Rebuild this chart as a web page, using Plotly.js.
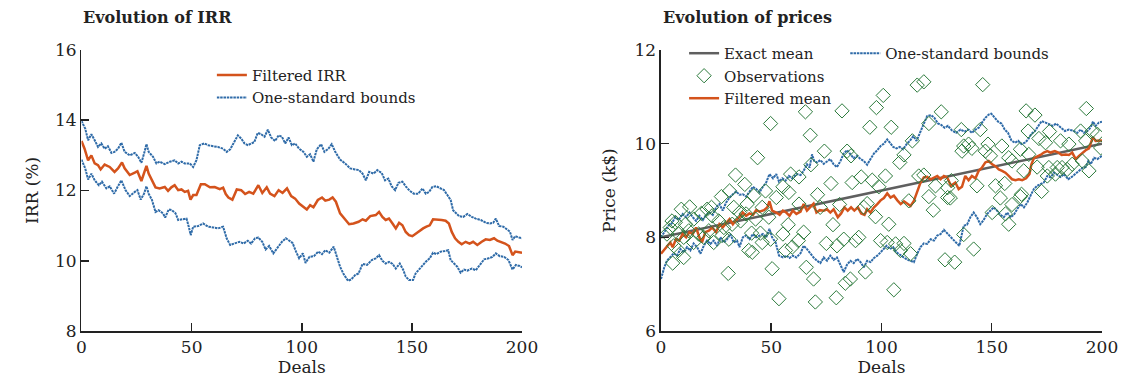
<!DOCTYPE html>
<html>
<head>
<meta charset="utf-8">
<script src="https://cdn.plot.ly/plotly-3.0.1.min.js"></script>
<style>html,body{margin:0;padding:0;background:#fff;}#chart{width:1127px;height:381px;}</style>
</head>
<body>
<div id="chart"></div>
<script>
// ---------- Left chart: Evolution of IRR ----------
const irrFilteredX = [0,1.4,3,4.5,6,7.5,8.7,10.5,12.8,15,16.6,18.4,19.6,21.9,24.2,25.4,27.2,28.4,29.5,30.5,32,33.6,35.5,37.8,39.3,40.8,42.3,43.9,45.4,46.9,48.4,49.5,50.7,52.2,54.2,56,58.3,60.5,62.8,64.3,65.5,66.7,68.5,70.5,72.5,74.3,76.1,78,80.3,82.1,84.1,85.6,87.6,89.5,91.3,93.3,95.2,97,98.8,100.8,102.3,103.8,105.3,107.3,109.2,110.7,112.5,114,115.5,117.4,119.7,121.5,123.5,125.8,127.6,129.1,131.1,133.6,135.1,136.6,138.1,139.6,141.2,142.7,144.2,145.7,147.2,148.7,150.2,152,153.5,155.1,156.6,158.1,159.6,161.6,163.5,165.3,166.8,168.1,169.6,171.1,172.6,174.4,176.2,177.8,179.7,181.7,183.5,185.4,187.3,188.8,190.4,192.3,194.1,195.7,196.9,198.7,200];
const irrFilteredY = [13.41,13.19,12.86,13.0,12.77,12.72,12.6,12.74,12.67,12.53,12.63,12.8,12.63,12.44,12.51,12.55,12.27,12.48,12.7,12.48,12.29,12.09,12.06,12.1,11.99,12.09,12.15,12.01,12.03,11.96,11.99,11.74,11.87,11.87,12.18,12.18,12.09,12.1,12.04,12.08,11.9,11.8,11.74,12.03,12.01,11.9,11.96,11.91,12.15,11.93,12.09,11.91,11.84,12.01,11.93,12.06,11.84,11.77,11.63,11.54,11.46,11.58,11.52,11.73,11.8,11.71,11.74,11.8,11.68,11.35,11.16,11.04,11.06,11.11,11.18,11.14,11.27,11.3,11.39,11.25,11.16,11.2,11.06,10.92,11.08,11.01,10.82,10.73,10.7,10.78,10.87,10.92,10.97,11.01,11.18,11.18,11.16,11.14,11.06,10.82,10.64,10.54,10.47,10.54,10.49,10.54,10.45,10.54,10.61,10.59,10.64,10.57,10.54,10.49,10.42,10.16,10.26,10.23,10.23];

const irrUpperX = [0,1.7,3,4.5,6,7.5,9,10.5,12,13.6,15,16.6,18.1,19.6,21.9,24.2,25.7,27.2,28.4,29.5,30.5,32.5,34,35.5,37.8,40.1,42.3,43.9,45.4,46.9,49.2,50.7,52.2,53.7,55.7,57.5,59.8,62,64.3,65.9,67.5,69.8,71,72.5,74,75.5,77,78.5,80,81.6,83.1,84.6,86.1,87.9,89.5,91,92.5,94,95.5,97,98.8,100.8,102.3,103.8,105.3,106.8,108.8,110.3,112.1,113.6,115.2,117.4,119.7,122,124.2,126,127.6,129.1,130.6,132.6,134.3,136.3,137.8,139.3,140.8,142.4,143.9,145.7,147.2,149,150.9,152.9,154.8,156.3,157.8,159.3,161.1,163.1,164.6,166.1,167.6,168.7,169.9,171.4,173.3,175.2,177.2,179,181.3,183.6,185.4,186.9,188.1,189.6,191.5,193,194.5,195.7,196.9,198.7,200];
const irrUpperY = [13.98,13.76,13.43,13.6,13.43,13.24,13.34,13.19,13.26,13.07,13.1,13.19,13.36,13.1,13.0,13.07,12.96,12.79,13.05,13.32,13.1,12.96,12.77,12.82,12.75,12.82,12.86,12.77,12.82,12.77,12.77,12.67,12.86,13.29,13.34,13.29,13.26,13.24,13.19,13.1,13.17,13.45,13.57,13.48,13.34,13.29,13.34,13.38,13.64,13.6,13.53,13.73,13.51,13.41,13.57,13.53,13.34,13.51,13.29,13.34,13.19,13.1,12.96,13.03,12.82,13.17,13.32,13.1,13.19,13.32,13.1,12.88,12.77,12.63,12.6,12.58,12.48,12.29,12.53,12.48,12.58,12.5,12.29,12.34,12.12,12.01,12.22,12.25,12.12,11.99,11.91,11.91,12.06,11.91,11.96,12.1,12.12,12.06,12.01,11.87,11.73,11.44,11.35,11.27,11.25,11.33,11.25,11.2,11.16,11.08,11.06,11.08,11.2,10.99,10.97,10.89,10.83,10.59,10.7,10.66,10.64];

const irrLowerX = [0,1.7,3,4.5,6,7.9,9.3,11.3,12.8,14.8,16.3,18.1,20,21.9,24.2,25.4,26.9,28.4,29.5,30.5,32,33.6,35,37,38,39.6,41,42.7,43.9,45.7,47.7,48.7,49.6,50.7,53,55.2,57.5,59.8,62,64.3,65.9,67.5,69.8,71.7,73.6,75.5,77,78.8,80.3,82.1,83.6,85.2,87.1,89.1,91,92.8,94.3,95.8,97.4,98.8,100.5,101.7,103.5,105.5,107.5,109.2,110.7,112.5,114.5,116,117.4,119,121,122.5,124.2,125.8,127.6,129.6,131.8,133.6,135.1,136.6,138.1,139.6,141.2,142.7,144.5,146,147.2,148.7,150.5,151.7,153.2,154.8,156.3,158.1,159.6,161.1,163.1,165,166.5,167.6,169.1,170.6,172.1,173.7,175.2,177.2,179,180.8,182.8,184.8,186.6,188.1,189.9,191.9,193.8,195.7,197.2,199,200];
const irrLowerY = [12.88,12.63,12.31,12.48,12.29,12.15,12.25,12.06,12.12,11.91,12.09,12.29,12.01,11.84,11.96,12.01,11.74,11.91,12.12,11.91,11.73,11.39,11.44,11.35,11.23,11.46,11.44,11.35,11.16,11.18,11.2,10.97,10.73,10.97,10.99,11.06,10.97,10.95,10.92,10.97,10.64,10.45,10.51,10.54,10.49,10.57,10.49,10.64,10.66,10.54,10.32,10.42,10.21,10.38,10.54,10.64,10.57,10.51,10.26,10.07,10.21,9.94,10.11,10.13,10.26,10.19,10.3,10.23,10.4,10.11,9.83,9.62,9.43,9.47,9.59,9.64,9.91,9.88,10.02,10.07,10.16,10.0,9.92,9.97,9.91,9.78,9.92,9.75,9.55,9.45,9.45,9.64,9.75,9.88,9.97,10.07,10.23,10.19,10.26,10.28,10.3,10.02,9.91,9.83,9.66,9.75,9.72,9.78,9.73,9.88,10.04,10.07,10.11,10.21,10.13,10.11,10.02,9.75,9.88,9.85,9.81];

// ---------- Right chart: Evolution of prices ----------
const exactMeanX = [0,50,100,150,200];
const exactMeanY = [8.0,8.5,9.0,9.5,10.0];

const priceFilteredX = [0,2.7,4.2,5.3,6.8,8.3,9.8,11.4,12.9,14.4,15.9,17.4,18.6,20.1,21.7,23.2,25,26.5,28,29.5,31.1,32.6,34.1,35.6,37.1,38.6,40.1,41.7,43.2,44.7,46.7,48.2,49.2,50.4,52.3,53.8,55.3,56.8,58.3,59.8,61.4,63.3,64.7,66.2,67.7,69.2,70.5,72,73.8,75.3,76.8,78.3,80.2,81.7,83.2,84.7,86.2,87.7,89.3,90.8,92.3,93.5,95,96.6,98.1,99.6,101.1,102.6,104.1,105.6,107.2,108.7,110.2,111.7,113.2,114.7,116.2,117.7,119.2,120.7,122.3,123.8,125.3,126.8,128.3,129.8,131.5,133.5,135,136.5,138,139.5,141,142.6,144.1,145.6,147.1,148.6,150.2,151.7,153.2,154.7,156.2,157.7,159.2,160.8,162.3,163.8,165.6,167.1,168,169.1,170.6,172.1,173.6,175.2,176.7,178.6,180.2,181.7,183.5,185,186.5,188.1,189.6,191.1,192.6,194.1,195.3,195.9,197.1,198.6,200];
const priceFilteredY = [7.65,7.82,7.89,7.79,7.96,7.93,8.07,8.0,8.11,8.07,8.21,8.0,7.89,8.11,8.14,8.21,8.11,8.28,8.21,8.3,8.39,8.28,8.37,8.43,8.53,8.46,8.51,8.48,8.58,8.55,8.58,8.64,8.77,8.57,8.53,8.48,8.57,8.53,8.46,8.57,8.5,8.55,8.71,8.57,8.64,8.72,8.53,8.58,8.57,8.6,8.53,8.6,8.43,8.51,8.64,8.57,8.64,8.57,8.64,8.51,8.48,8.6,8.53,8.64,8.71,8.79,8.84,8.94,8.85,8.89,8.79,8.71,8.77,8.71,8.67,8.78,8.99,9.17,9.28,9.29,9.24,9.28,9.31,9.24,9.31,9.28,9.1,9.17,9.03,9.08,9.31,9.22,9.31,9.26,9.42,9.49,9.6,9.63,9.56,9.52,9.45,9.42,9.38,9.31,9.24,9.22,9.24,9.22,9.26,9.35,9.56,9.69,9.72,9.76,9.81,9.84,9.81,9.84,9.81,9.76,9.77,9.76,9.81,9.67,9.74,9.81,9.86,9.9,10.06,10.14,10.06,10.07,10.07];

const priceUpperX = [0,1.9,3.4,4.9,6.5,8,9.8,11.4,12.9,14.4,15.9,17.4,19,20.5,22,23.5,25,26.5,28,29.5,31.1,32.6,34.1,35.6,37.1,38.6,40.1,41.7,43.2,44.7,46.2,47.7,49.2,50.8,52.3,53.5,55,56.5,58,59.5,61.4,63.3,64.7,66.2,67.4,68.5,69.5,70.8,72.3,73.8,75.3,76.8,78.3,79.8,81.4,82.9,84.4,85.9,87.4,89,90.5,92,93.5,95,96.6,98.1,99.6,101.1,102.6,103.8,105.3,106.8,108.3,109.8,111.4,112.9,114.4,115.9,117.4,118.4,119.5,120.7,122.5,124,125.6,127.1,128.6,130.1,132,133.8,135.8,137.7,139.5,141,142.6,144.1,145.6,147.1,148.6,149.8,151.4,152.9,154.4,155.9,157.4,158.9,160.5,162,163.5,165,166.5,168,169.6,171.1,172.6,174.4,175.9,177.7,179.2,181.2,183.2,185,186.8,188.8,190.3,191.8,193.4,194.9,195.9,197.1,198.6,200];
const priceUpperY = [8.0,8.13,8.25,8.3,8.43,8.37,8.5,8.43,8.53,8.43,8.35,8.46,8.37,8.48,8.53,8.48,8.64,8.71,8.57,8.74,8.85,8.92,8.98,8.91,8.92,8.87,8.96,9.08,9.03,8.96,9.08,9.17,9.35,9.26,9.35,9.19,9.26,9.21,9.31,9.26,9.35,9.33,9.42,9.56,9.49,9.77,9.63,9.6,9.65,9.57,9.62,9.67,9.56,9.5,9.63,9.79,9.86,9.77,9.69,9.74,9.67,9.63,9.55,9.67,9.79,9.86,9.95,10.0,10.09,10.02,9.93,9.9,9.93,9.88,9.99,10.06,10.16,10.06,10.23,10.34,10.48,10.59,10.61,10.55,10.43,10.4,10.34,10.38,10.28,10.23,10.3,10.26,10.3,10.23,10.3,10.34,10.45,10.55,10.62,10.64,10.55,10.47,10.43,10.3,10.23,10.07,10.02,10.06,9.99,10.02,10.09,10.21,10.27,10.38,10.48,10.45,10.41,10.38,10.43,10.35,10.27,10.3,10.28,10.23,10.3,10.23,10.27,10.35,10.47,10.38,10.45,10.47];

const priceLowerX = [0,1.5,2.7,4.2,5.8,7.3,8.8,10.3,11.8,13.3,14.8,16.4,17.9,19.4,20.9,22.4,23.9,25.4,27,28.5,30,31.5,33,34.5,35.6,37.1,38.6,40.1,41.7,43.2,44.7,46.2,47.7,49.2,50.4,52,53.5,55.3,56.8,58.3,59.8,61.4,63.3,64.7,66.2,67.7,69.2,70.8,72.3,73.8,75.3,76.8,78.3,79.8,81.4,82.9,84.4,85.9,87.4,89,90.5,92,93.5,95,96.6,98.1,99.6,101.1,102.3,103.8,105.3,106.8,108.3,110.2,111.7,113.2,114.7,116.2,117.7,119.2,120.7,122.3,123.8,125.3,126.8,128.3,130.1,132,133.8,135.3,136.2,137.3,138.8,140.3,141.8,143.3,144.8,146.3,147.9,149.4,150.9,152.4,153.9,155.5,157,158.5,160,161.5,163.1,164.6,166.1,167.6,169.1,170.6,172.1,173.6,175.2,176.7,178.2,179.7,181.2,182.8,184.7,186.3,187.8,189.6,191.1,192.6,193.8,194.9,196.4,197.9,200];
const priceLowerY = [7.11,7.36,7.5,7.57,7.66,7.61,7.75,7.68,7.79,7.72,7.87,7.79,7.65,7.82,7.93,7.86,7.93,7.82,8.0,7.89,7.96,8.07,7.89,7.93,7.79,8.0,8.04,7.96,8.07,8.0,8.04,8.07,8.0,8.18,8.0,7.89,7.61,7.57,7.61,7.56,7.61,7.57,7.66,7.82,7.75,7.65,7.57,7.5,7.45,7.57,7.5,7.61,7.52,7.57,7.42,7.26,7.42,7.5,7.45,7.54,7.47,7.36,7.5,7.47,7.56,7.61,7.68,7.75,7.82,7.75,7.79,7.68,7.63,7.57,7.52,7.5,7.47,7.65,7.79,7.87,7.86,7.96,7.93,8.04,8.07,8.16,8.07,7.96,7.89,7.82,8.01,8.25,8.27,8.43,8.53,8.43,8.28,8.37,8.5,8.58,8.64,8.57,8.48,8.43,8.53,8.43,8.48,8.6,8.71,8.64,8.74,8.89,9.03,9.1,9.13,9.17,9.31,9.28,9.38,9.33,9.29,9.35,9.24,9.29,9.35,9.42,9.48,9.5,9.63,9.56,9.7,9.67,9.74];

const obsX = [2.7,4.2,5.0,5.3,5.8,6.5,8.0,8.0,9.2,10.3,10.3,11.1,12.6,13.0,14.8,14.9,17.1,18.3,19.4,20.9,21.7,22.9,23.2,23.9,26.2,27.4,27.7,28.5,30.5,30.8,31.1,32.3,33.0,33.8,35.6,36.1,38.0,38.6,39.1,39.8,41.1,41.4,42.1,42.9,43.8,45.1,45.9,45.9,47.4,48.9,49.7,49.7,50.4,52.3,53.5,55.3,55.3,56.5,57.7,58.0,58.8,59.5,62.3,62.6,62.6,64.7,65.5,65.9,67.7,68.0,69.2,70.0,71.0,72.2,74.1,75.0,77.1,78.0,79.5,79.8,81.0,82.1,82.9,83.6,84.4,85.9,86.2,86.7,88.2,89.7,90.8,92.0,92.7,93.5,94.7,95.8,97.3,97.7,98.8,99.6,100.8,101.8,102.6,103.3,104.4,105.6,106.4,108.3,108.6,110.2,110.2,112.4,113.2,114.0,116.2,116.9,119.2,119.2,121.5,121.5,123.5,124.5,127.1,128.8,130.0,130.0,131.2,131.7,133.2,136.2,136.5,137.3,137.3,139.5,141.0,141.8,143.3,144.8,145.9,147.1,148.3,149.4,150.2,151.7,153.9,154.6,155.9,156.2,157.7,157.7,159.2,159.2,163.0,163.0,163.5,164.5,165.6,166.5,166.8,169.6,170.6,171.4,172.6,174.4,175.2,175.9,176.2,178.9,179.7,181.2,181.9,184.2,185.0,186.5,190.3,191.1,192.6,192.9,194.1,195.6,197.9,199.4];
const obsY = [8.07,8.21,8.35,7.45,7.82,8.32,8.07,7.72,8.6,7.57,8.0,8.28,8.14,8.65,7.89,8.39,8.07,8.51,8.0,8.6,8.14,8.64,8.46,7.89,8.35,8.87,8.04,8.21,7.23,7.96,8.99,8.28,8.64,9.33,8.53,8.35,9.13,8.5,8.71,7.72,8.09,7.68,8.89,8.39,9.7,8.09,8.64,7.89,8.99,8.43,10.43,7.96,7.33,8.85,6.69,9.08,8.07,7.72,8.27,8.96,9.35,7.79,7.93,9.29,8.71,8.11,10.68,7.36,10.18,9.55,7.11,6.62,8.91,8.64,9.84,7.87,9.15,8.27,6.71,7.82,8.7,10.7,7.96,7.02,9.84,7.11,9.74,9.17,7.93,8.0,9.29,8.64,7.26,8.72,10.35,9.22,8.44,10.77,9.08,7.93,11.03,9.31,7.89,8.28,10.35,6.88,7.86,9.6,7.72,9.76,7.87,8.78,7.65,10.06,11.25,9.31,11.32,9.33,10.43,8.87,8.58,9.1,10.68,7.52,9.06,8.85,8.84,9.21,7.47,10.3,9.84,9.95,8.06,9.99,9.9,7.75,9.1,10.3,11.26,9.84,9.99,9.74,8.53,9.1,8.84,9.95,9.15,8.5,8.28,9.7,9.63,8.7,9.88,8.87,8.92,9.42,10.7,10.27,9.77,10.61,9.5,10.11,8.98,10.02,9.31,9.49,10.26,9.35,9.49,10.06,9.49,9.45,9.99,9.56,10.27,9.63,10.06,10.75,9.42,10.27,10.2,9.91];

// ---------- Styles ----------
const ORANGE = '#D4531C';
const BLUE = '#2F6BA8';
const GREEN = '#2B7A3B';
const GREY = '#5F5F5F';
const FONT = 'DejaVu Serif';
const boundDash = '2.5px,0.8px';

const traces = [
  {x: irrUpperX, y: irrUpperY, type:'scatter', mode:'lines', name:'One-standard bounds',
   line:{color:BLUE, width:2, dash:boundDash}, xaxis:'x', yaxis:'y', legend:'legend', legendgroup:'b', legendrank:2},
  {x: irrLowerX, y: irrLowerY, type:'scatter', mode:'lines', name:'One-standard bounds', showlegend:false,
   line:{color:BLUE, width:2, dash:boundDash}, xaxis:'x', yaxis:'y', legendgroup:'b'},
  {x: irrFilteredX, y: irrFilteredY, type:'scatter', mode:'lines', name:'Filtered IRR',
   line:{color:ORANGE, width:2.5}, xaxis:'x', yaxis:'y', legend:'legend', legendgroup:'a', legendrank:1},

  {x: exactMeanX, y: exactMeanY, type:'scatter', mode:'lines', name:'Exact mean',
   line:{color:GREY, width:2.5}, xaxis:'x2', yaxis:'y2', legend:'legend2', legendgroup:'c', legendrank:1},
  {x: priceUpperX, y: priceUpperY, type:'scatter', mode:'lines', name:'One-standard bounds',
   line:{color:BLUE, width:2, dash:boundDash}, xaxis:'x2', yaxis:'y2', legend:'legend3', legendgroup:'f'},
  {x: priceLowerX, y: priceLowerY, type:'scatter', mode:'lines', name:'One-standard bounds', showlegend:false,
   line:{color:BLUE, width:2, dash:boundDash}, xaxis:'x2', yaxis:'y2', legendgroup:'f'},
  {x: priceFilteredX, y: priceFilteredY, type:'scatter', mode:'lines', name:'Filtered mean',
   line:{color:ORANGE, width:2.5}, xaxis:'x2', yaxis:'y2', legend:'legend2', legendgroup:'e', legendrank:3},
  {x: obsX, y: obsY, type:'scatter', mode:'markers', name:'Observations',
   marker:{symbol:'diamond-open', size:11, color:GREEN, line:{width:1, color:GREEN}},
   xaxis:'x2', yaxis:'y2', legend:'legend2', legendgroup:'d', legendrank:2}
];

const axisCommon = {
  showline:true, linecolor:'#222', linewidth:1.5, ticks:'inside', ticklen:8, tickwidth:1.5, tickcolor:'#222',
  showgrid:false, zeroline:false, tickfont:{family:FONT, size:17, color:'#222'}, fixedrange:true
};
const xTicks = [0,50,100,150,200];
const titleFont = {family:FONT, size:17, color:'#222'};

const layout = {
  width:1127, height:381, margin:{l:0, r:0, t:0, b:0},
  paper_bgcolor:'#fff', plot_bgcolor:'#fff',
  font:{family:FONT, size:16, color:'#222'},
  xaxis: Object.assign({}, axisCommon, {domain:[0.0723,0.4632], range:[0,200], tickvals:xTicks, anchor:'y',
     title:{text:'Deals', font:titleFont, standoff:5}}),
  yaxis: Object.assign({}, axisCommon, {domain:[0.1312,0.8688], range:[8,16], tickvals:[8,10,12,14,16], anchor:'x',
     title:{text:'IRR (%)', font:titleFont, standoff:12}}),
  xaxis2: Object.assign({}, axisCommon, {domain:[0.5865,0.9778], range:[0,200], tickvals:xTicks, anchor:'y2',
     title:{text:'Deals', font:titleFont, standoff:5}}),
  yaxis2: Object.assign({}, axisCommon, {domain:[0.1312,0.8688], range:[6,12], tickvals:[6,8,10,12], anchor:'x2',
     title:{text:'Price (k$)', font:titleFont, standoff:14}}),
  showlegend:true,
  legend:{x:0.188, y:0.846, xanchor:'left', yanchor:'top', bgcolor:'rgba(0,0,0,0)', borderwidth:0,
     font:{family:FONT, size:15, color:'#222'}, traceorder:'grouped', tracegroupgap:0},
  legend2:{x:0.607, y:0.903, xanchor:'left', yanchor:'top', bgcolor:'rgba(0,0,0,0)', borderwidth:0,
     font:{family:FONT, size:15, color:'#222'}, traceorder:'grouped', tracegroupgap:0},
  legend3:{x:0.750, y:0.903, xanchor:'left', yanchor:'top', bgcolor:'rgba(0,0,0,0)', borderwidth:0,
     font:{family:FONT, size:15, color:'#222'}},
  annotations:[
    {text:'<b>Evolution of IRR</b>', xref:'paper', yref:'paper', x:0.0723, y:0.953, xanchor:'left', yanchor:'middle',
     showarrow:false, font:{family:FONT, size:16, color:'#222'}},
    {text:'<b>Evolution of prices</b>', xref:'paper', yref:'paper', x:0.5865, y:0.953, xanchor:'left', yanchor:'middle',
     showarrow:false, font:{family:FONT, size:16, color:'#222'}}
  ]
};

Plotly.newPlot('chart', traces, layout, {displayModeBar:false, staticPlot:true});
</script>
</body>
</html>
